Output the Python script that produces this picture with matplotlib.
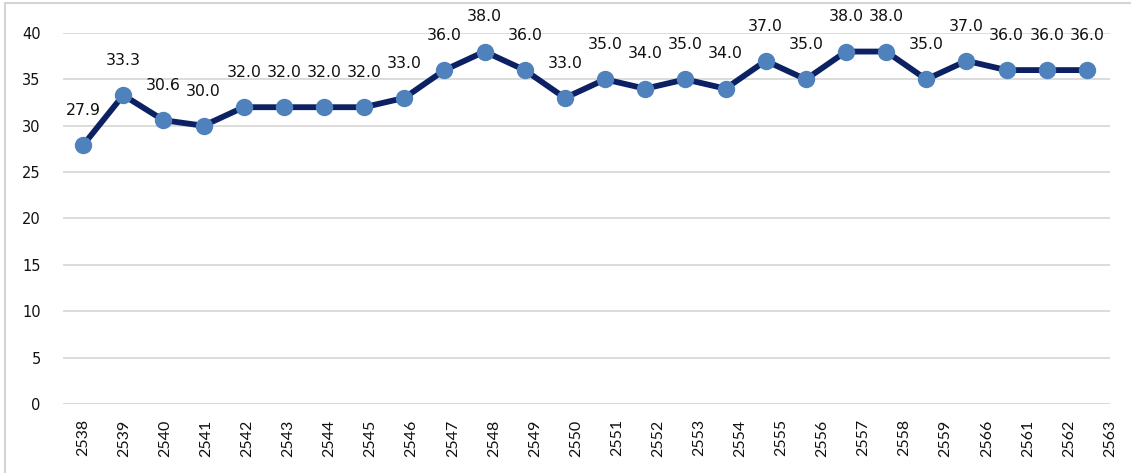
import numpy as np
import matplotlib.pyplot as plt
from matplotlib.lines import Line2D

# ── data ─────────────────────────────────────────────────────────────────────
YEARS = ["2538", "2539", "2540", "2541", "2542", "2543", "2544", "2545", "2546",
         "2547", "2548", "2549", "2550", "2551", "2552", "2553", "2554", "2555",
         "2556", "2557", "2558", "2559", "2566", "2561", "2562", "2563"]
VALUES = [27.9, 33.3, 30.6, 30.0, 32.0, 32.0, 32.0, 32.0, 33.0, 36.0, 38.0, 36.0,
          33.0, 35.0, 34.0, 35.0, 34.0, 37.0, 35.0, 38.0, 38.0, 35.0, 37.0, 36.0,
          36.0, 36.0]
Y_TICKS = [0, 5, 10, 15, 20, 25, 30, 35, 40]

# ── style ────────────────────────────────────────────────────────────────────
LINE_COLOR   = "#0c2163"
MARKER_COLOR = "#4f81bd"
GRID_COLOR   = "#d9d9d9"
TEXT_COLOR   = "#111111"

fig = plt.figure(figsize=(11.31, 4.73), dpi=100)
ax = fig.add_axes([63 / 1131, 1 - 404 / 473, (1110 - 63) / 1131, (404 - 33) / 473])

x = np.arange(len(VALUES))
ax.plot(x, VALUES, color=LINE_COLOR, linewidth=4.2, zorder=3,
        marker="o", markersize=11.5, markerfacecolor=MARKER_COLOR,
        markeredgecolor=MARKER_COLOR, solid_capstyle="round")

for xi, v in zip(x, VALUES):
    ax.annotate(f"{v:.1f}", (xi, v), xytext=(0, 25), textcoords="offset points",
                ha="center", va="center", fontsize=11.3, color=TEXT_COLOR,
                family="DejaVu Sans")

ax.set_xlim(-0.5, len(VALUES) - 0.5)
ax.set_ylim(0, 40)
ax.set_yticks(Y_TICKS)
ax.set_yticklabels([str(t) for t in Y_TICKS], fontsize=10.5, family="DejaVu Sans",
                   color=TEXT_COLOR)

# category labels are spread slightly wider than the points in the source
spread = 1.023
ax.set_xticks(np.arange(len(YEARS)) * spread)
ax.set_xticklabels(YEARS, rotation=90, fontsize=11.5, family="Lato",
                   color=TEXT_COLOR)
ax.tick_params(axis="x", length=0, pad=11)
ax.tick_params(axis="y", length=0, pad=16)

ax.grid(axis="y", color=GRID_COLOR, linewidth=1.3, zorder=0)
for s in ax.spines.values():
    s.set_visible(False)
ax.axhline(0, color=GRID_COLOR, linewidth=1.3, zorder=1)

# light frame on top and left edges of the picture
fig.add_artist(Line2D([5 / 1131, 5 / 1131], [0, 1 - 3 / 473],
                      color="#d4d4d4", linewidth=1.5, transform=fig.transFigure))
fig.add_artist(Line2D([5 / 1131, 1], [1 - 3 / 473, 1 - 3 / 473],
                      color="#d4d4d4", linewidth=1.5, transform=fig.transFigure))

fig.savefig("out.png", dpi=100, facecolor="white")
